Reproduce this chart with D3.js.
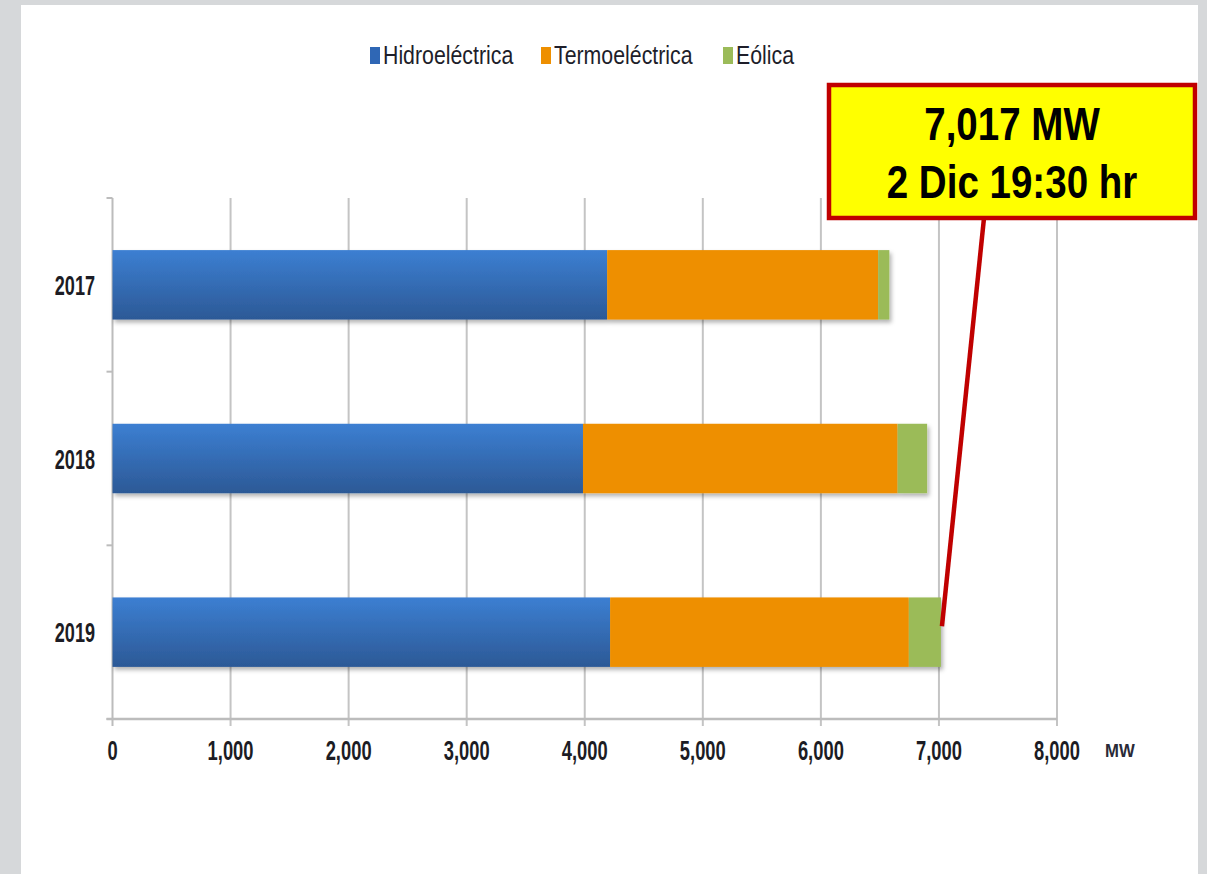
<!DOCTYPE html>
<html>
<head>
<meta charset="utf-8">
<script src="https://cdn.jsdelivr.net/npm/d3@7"></script>
<style>
	html, body { margin: 0; padding: 0; background: #d6d8da; }
	svg { display: block; }
	.narrow { font-family: "Liberation Sans", Arial, sans-serif; }
</style>
</head>
<body>
<svg id="chart" width="1207" height="874"></svg>
<script>
// Data
var years = ["2017", "2018", "2019"];
var series = ["Hidroeléctrica", "Termoeléctrica", "Eólica"];
var hidro = [4190, 3985, 4215];
var termo = [2295, 2665, 2530];
var eolica = [95, 250, 272];
var xTicks = [0, 1000, 2000, 3000, 4000, 5000, 6000, 7000, 8000];
var colors = ["url(#hidroGrad)", "#ee8f00", "#9bbb59"];
var legendColors = ["#2f67b5", "#ee8f00", "#9bbb59"];
var peakValue = 7017;
var peakYear = "2019";
var noteLines = ["7,017 MW", "2 Dic 19:30 hr"];

var rows = years.map(function(y, i) {
	return { year: y, "Hidroeléctrica": hidro[i], "Termoeléctrica": termo[i], "Eólica": eolica[i] };
});

var svg = d3.select("#chart");

// white panel
svg.append("rect")
	.attr("x", 21).attr("y", 5)
	.attr("width", 1177).attr("height", 869)
	.attr("fill", "#ffffff");

var defs = svg.append("defs");
var grad = defs.append("linearGradient")
	.attr("id", "hidroGrad")
	.attr("x1", 0).attr("y1", 0).attr("x2", 0).attr("y2", 1);
grad.append("stop").attr("offset", "0%").attr("stop-color", "#3c7fd2");
grad.append("stop").attr("offset", "100%").attr("stop-color", "#2c5996");

var shadow = defs.append("filter").attr("id", "shadow")
	.attr("x", "-5%").attr("y", "-20%").attr("width", "115%").attr("height", "150%");
shadow.append("feDropShadow")
	.attr("dx", 2).attr("dy", 3).attr("stdDeviation", 2)
	.attr("flood-color", "#000").attr("flood-opacity", 0.3);

var x = d3.scaleLinear()
	.domain([0, 8000])
	.range([112.5, 1057]);

var y = d3.scaleBand()
	.domain(years)
	.range([198, 719])
	.paddingInner(0.6)
	.paddingOuter(0.3);

// gridlines
svg.append("g")
	.selectAll("line")
	.data(xTicks.slice(1))
	.join("line")
	.attr("x1", function(d) { return x(d); })
	.attr("x2", function(d) { return x(d); })
	.attr("y1", 198)
	.attr("y2", 726)
	.attr("stroke", "#c4c4c4")
	.attr("stroke-width", 2);

// left axis line with ticks at band boundaries
svg.append("line")
	.attr("x1", x(0)).attr("x2", x(0))
	.attr("y1", 198).attr("y2", 726)
	.attr("stroke", "#bcbcbc").attr("stroke-width", 2);

var bounds = d3.range(years.length + 1).map(function(i) { return 198 + i * y.step(); });
svg.append("g")
	.selectAll("line")
	.data(bounds)
	.join("line")
	.attr("x1", x(0) - 6).attr("x2", x(0))
	.attr("y1", function(d) { return d; })
	.attr("y2", function(d) { return d; })
	.attr("stroke", "#bcbcbc").attr("stroke-width", 2);

// bottom axis line
svg.append("line")
	.attr("x1", x(0) - 6).attr("x2", x(8000))
	.attr("y1", 719).attr("y2", 719)
	.attr("stroke", "#bcbcbc").attr("stroke-width", 2.5);

// stacked bars
var stack = d3.stack().keys(series);
var stacked = stack(rows);

svg.append("g")
	.attr("filter", "url(#shadow)")
	.selectAll("g")
	.data(stacked)
	.join("g")
	.attr("fill", function(d, i) { return colors[i]; })
	.selectAll("rect")
	.data(function(d) { return d; })
	.join("rect")
	.attr("x", function(d) { return x(d[0]); })
	.attr("width", function(d) { return x(d[1]) - x(d[0]); })
	.attr("y", function(d) { return y(d.data.year); })
	.attr("height", y.bandwidth());

// x tick labels
svg.append("g")
	.selectAll("text")
	.data(xTicks)
	.join("text")
	.attr("class", "narrow")
	.attr("transform", function(d) { return "translate(" + x(d) + ",760) scale(0.68,1)"; })
	.attr("text-anchor", "middle")
	.attr("font-weight", "bold")
	.attr("font-size", 27)
	.attr("fill", "#1c1c24")
	.text(d3.format(","));

svg.append("text")
	.attr("class", "narrow")
	.attr("transform", "translate(1105,757) scale(0.88,1)")
	.attr("font-weight", "bold")
	.attr("font-size", 19)
	.attr("fill", "#2a2a38")
	.text("MW");

// year labels
svg.append("g")
	.selectAll("text")
	.data(years)
	.join("text")
	.attr("class", "narrow")
	.attr("transform", function(d) { return "translate(95," + (y(d) + y.bandwidth() / 2 + 10) + ") scale(0.67,1)"; })
	.attr("text-anchor", "end")
	.attr("font-weight", "bold")
	.attr("font-size", 27)
	.attr("fill", "#1c1c24")
	.text(function(d) { return d; });

// legend
var legendX = [370, 541, 723];
var legend = svg.append("g")
	.selectAll("g")
	.data(series)
	.join("g")
	.attr("transform", function(d, i) { return "translate(" + legendX[i] + ",0)"; });
legend.append("rect")
	.attr("x", 0).attr("y", 47)
	.attr("width", 10).attr("height", 17)
	.attr("fill", function(d, i) { return legendColors[i]; });
legend.append("text")
	.attr("class", "narrow")
	.attr("transform", "translate(13,64) scale(0.82,1)")
	.attr("font-size", 26)
	.attr("fill", "#1e1e2a")
	.text(function(d) { return d; });

// annotation: leader line + box
svg.append("line")
	.attr("x1", 984).attr("y1", 218)
	.attr("x2", x(peakValue) + 1)
	.attr("y2", y(peakYear) + y.bandwidth() / 2 - 6)
	.attr("stroke", "#c00000")
	.attr("stroke-width", 4.5);

svg.append("rect")
	.attr("x", 829).attr("y", 85)
	.attr("width", 366).attr("height", 133)
	.attr("fill", "#ffff00")
	.attr("stroke", "#c00000")
	.attr("stroke-width", 4.5);

svg.append("g")
	.selectAll("text")
	.data(noteLines)
	.join("text")
	.attr("class", "narrow")
	.attr("transform", function(d, i) { return "translate(1012," + (140 + i * 58) + ") scale(0.82,1)"; })
	.attr("text-anchor", "middle")
	.attr("font-weight", "bold")
	.attr("font-size", 47)
	.attr("fill", "#000")
	.text(function(d) { return d; });
</script>
</body>
</html>
